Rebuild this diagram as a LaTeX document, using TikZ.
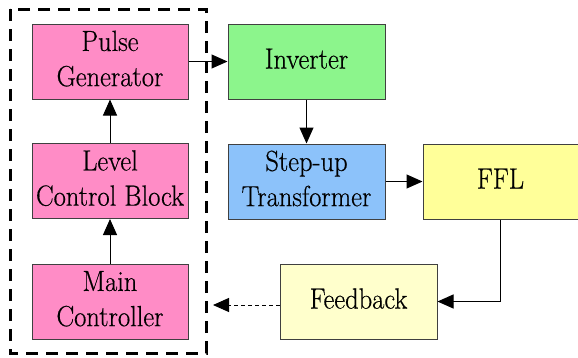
\documentclass[tikz,border=0pt]{standalone}
\usepackage{fontspec}
\usepackage{graphicx}
\setmainfont{Latin Modern Roman}[FakeBold=0.5]
\usetikzlibrary{arrows.meta}
\definecolor{pinkc}{HTML}{FF8CC6}
\definecolor{greenc}{HTML}{8CF58C}
\definecolor{bluec}{HTML}{8CC2FA}
\definecolor{yellowc}{HTML}{FFFF99}
\definecolor{paley}{HTML}{FFFFCC}
\definecolor{edgec}{HTML}{404040}
\newcommand\vtxt[1]{\raisebox{-1pt}{\scalebox{1}[1.1]{\fontsize{26.5}{32}\selectfont\begin{tabular}{@{}c@{}}#1\end{tabular}}}}
\begin{document}
\begin{tikzpicture}[x=1pt,y=-1pt,
  blk/.style={draw=edgec,line width=1pt,minimum width=156pt,minimum height=75pt,inner sep=0pt,align=center},
  conn/.style={line width=1pt,-{Triangle[length=16pt,width=14pt]}}]
\useasboundingbox (0,0) rectangle (578,357);
\fill[white] (0,0) rectangle (578,357);
\node[blk,fill=pinkc] (pg) at (110,61.5) {\vtxt{Pulse\\Generator}};
\node[blk,fill=pinkc] (lc) at (110,181) {\vtxt{Level\\Control Block}};
\node[blk,fill=pinkc] (mc) at (110,301.5) {\vtxt{Main\\Controller}};
\node[blk,fill=greenc,minimum width=157pt] (inv) at (306.5,61.5) {\vtxt{Inverter}};
\node[blk,fill=bluec,minimum width=157pt] (st) at (306.5,181.5) {\vtxt{Step-up\\Transformer}};
\node[blk,fill=yellowc,minimum width=155pt] (ffl) at (500.5,181.5) {\vtxt{FFL}};
\node[blk,fill=paley,minimum width=157pt] (fb) at (358.5,301.5) {\vtxt{Feedback}};
\draw[line width=3pt,dash pattern=on 12pt off 8pt] (10,9) rectangle (206,353);
\coordinate (fbend) at (213,305);
\draw[conn] (pg.east) -- (inv.west);
\draw[conn] (inv.south) -- (st.north);
\draw[conn] (st.east) -- (ffl.west);
\draw[conn] (ffl.south) |- (fb.east);
\draw[conn] (lc.north) -- (pg.south);
\draw[conn] (mc.north) -- (lc.south);
\draw[conn,dash pattern=on 4pt off 3pt] (fb.west |- fbend) -- (fbend);
\end{tikzpicture}
\end{document}
